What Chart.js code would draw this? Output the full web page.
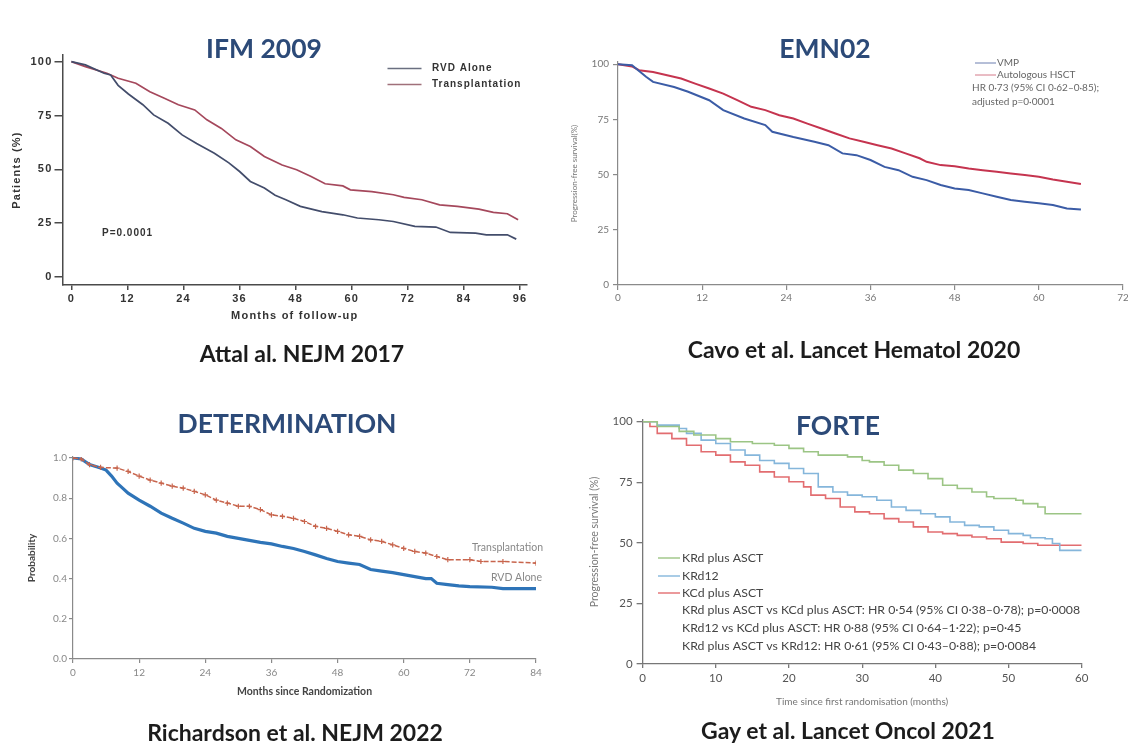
<!DOCTYPE html>
<html>
<head>
<meta charset="utf-8">
<script src="https://cdn.jsdelivr.net/npm/chart.js@4/dist/chart.umd.min.js"></script>
<style>
  html, body { margin: 0; padding: 0; background: #fff; width: 1128px; height: 746px; overflow: hidden; position: relative; }
  canvas { position: absolute; left: 0; top: 0; }
  .lbl { position: absolute; transform: translate(-50%, -50%); white-space: nowrap; font-family: Lato, "Open Sans", sans-serif; font-weight: 700; line-height: 1; }
  .ttl { color: #2c4a78; font-size: 26.5px; }
  .cite { color: #1c1c1c; font-size: 23px; }
</style>
</head>
<body>
<canvas id="ifm" width="1200" height="746"></canvas>
<canvas id="emn" width="1200" height="746"></canvas>
<canvas id="det" width="1200" height="746"></canvas>
<canvas id="forte" width="1200" height="746"></canvas>

<div class="lbl ttl" style="left:264px;top:48px">IFM 2009</div>
<div class="lbl ttl" style="left:825px;top:48px">EMN02</div>
<div class="lbl ttl" style="left:287px;top:423px">DETERMINATION</div>
<div class="lbl ttl" style="left:838px;top:425px">FORTE</div>
<div class="lbl cite" style="left:302px;top:353px">Attal al. NEJM 2017</div>
<div class="lbl cite" style="left:854px;top:349px">Cavo et al. Lancet Hematol 2020</div>
<div class="lbl cite" style="left:295px;top:732px">Richardson et al. NEJM 2022</div>
<div class="lbl cite" style="left:848px;top:730px">Gay et al. Lancet Oncol 2021</div>

<script>
// ---- IFM 2009 (months of follow-up, % patients) ----
const ifmXTicks = [0, 12, 24, 36, 48, 60, 72, 84, 96];
const ifmYTicks = [0, 25, 50, 75, 100];
const ifmRvdMonths = [0, 3, 7, 8.4, 10, 12.2, 15.3, 17.6, 20.7, 23.7, 26.8, 30.6, 33.7, 36, 38.3, 41.3, 43.6, 45.9, 49, 53.6, 58.1, 61.2, 65.8, 68.9, 73.5, 78, 81.1, 86.5, 88.8, 93.3, 95.2];
const ifmRvd = [100, 98.5, 94.6, 93.8, 89, 85, 80, 75.3, 71.4, 66, 62, 57.5, 53, 49, 44.4, 41.3, 38, 35.9, 32.8, 30.4, 28.9, 27.4, 26.6, 25.8, 23.5, 23.2, 20.7, 20.4, 19.6, 19.6, 17.6];
const ifmTxMonths = [0, 3, 7.6, 10, 13.8, 16.8, 19.9, 22.9, 26.4, 29, 32.1, 35.2, 38.3, 41.3, 45.1, 48.2, 51.3, 54.3, 58.1, 59.7, 64.3, 68.9, 71.2, 75, 78.8, 82.6, 87.2, 90.3, 93.3, 95.6];
const ifmTx = [100, 97.7, 94.6, 92.3, 90, 86, 83, 80, 77.6, 73, 69, 63.7, 60.6, 56, 52, 49.8, 46.7, 43.3, 42.3, 40.5, 39.7, 38.2, 37, 35.9, 33.5, 32.8, 31.5, 30, 29.4, 26.6];

// ---- EMN02 (progression-free survival, %) ----
const emnXTicks = [0, 12, 24, 36, 48, 60, 72];
const emnYTicks = [0, 25, 50, 75, 100];
const emnVmpMonths = [0, 2, 4, 5, 8, 10, 13, 15, 18, 21, 22, 25, 28, 30, 32, 34, 36, 38, 40, 42, 44, 46, 48, 50, 52, 54, 56, 58, 60, 62, 64, 66];
const emnVmp = [100, 99.5, 94.3, 92, 89.7, 87.5, 83.7, 79.2, 75.4, 72.4, 69.4, 67, 64.9, 63.3, 59.6, 58.8, 56.6, 53.5, 52, 49, 47.5, 45.3, 43.7, 43, 41.5, 40, 38.5, 37.7, 37, 36.2, 34.7, 34.2];
const emnHsctMonths = [0, 2, 3, 5, 7, 9, 11, 13, 15, 17, 19, 21, 23, 25, 27, 29, 31, 33, 35, 37, 39, 41, 43, 44, 46, 48, 50, 52, 54, 56, 58, 60, 62, 64, 66];
const emnHsct = [100, 99, 97.3, 96.5, 95, 93.5, 91.2, 89, 86.7, 83.7, 80.7, 79.2, 76.9, 75.4, 73.1, 70.9, 68.6, 66.4, 64.9, 63.3, 61.8, 59.6, 57.4, 55.8, 54.3, 53.8, 52.8, 52, 51.3, 50.5, 49.8, 49, 47.8, 46.8, 45.7];

// ---- DETERMINATION (probability) ----
const detXTicks = [0, 12, 24, 36, 48, 60, 72, 84];
const detYTicks = [0, 0.2, 0.4, 0.6, 0.8, 1.0];
const detRvdMonths = [0, 1.5, 3, 5, 6, 7, 8, 9, 10, 12, 14, 16, 18, 20, 22, 24, 26, 28, 30, 32, 34, 36, 38, 40, 42, 44, 46, 48, 50, 52, 54, 56, 58, 60, 62, 64, 65, 66, 68, 70, 72, 76, 78, 84];
const detRvd = [1.0, 0.995, 0.967, 0.95, 0.94, 0.91, 0.875, 0.85, 0.825, 0.79, 0.76, 0.726, 0.70, 0.676, 0.65, 0.635, 0.626, 0.61, 0.60, 0.59, 0.58, 0.573, 0.56, 0.55, 0.535, 0.518, 0.50, 0.485, 0.477, 0.47, 0.445, 0.437, 0.43, 0.42, 0.41, 0.40, 0.40, 0.377, 0.37, 0.364, 0.36, 0.357, 0.35, 0.35];
const detTxMonths = [0, 1.5, 3, 5, 8, 10, 12, 14, 16, 18, 20, 22, 24, 26, 28, 30, 32, 34, 36, 38, 40, 42, 44, 46, 48, 50, 52, 54, 56, 58, 60, 62, 64, 66, 68, 72, 74, 78, 84];
const detTx = [1.0, 0.995, 0.967, 0.953, 0.95, 0.933, 0.91, 0.89, 0.875, 0.86, 0.85, 0.834, 0.817, 0.79, 0.776, 0.76, 0.76, 0.743, 0.717, 0.71, 0.70, 0.684, 0.66, 0.65, 0.635, 0.618, 0.61, 0.593, 0.585, 0.568, 0.55, 0.535, 0.527, 0.51, 0.494, 0.494, 0.485, 0.485, 0.477];

// ---- FORTE (progression-free survival, %) ----
const forteXTicks = [0, 10, 20, 30, 40, 50, 60];
const forteYTicks = [0, 25, 50, 75, 100];
const forteKrdAsctMonths = [0, 2, 5, 7, 10, 12, 15, 18, 20, 22, 24, 28, 30, 31, 33, 35, 37, 39, 41, 43, 45, 47, 48, 51, 52, 54, 55, 60];
const forteKrdAsct = [100, 98, 96, 94.5, 93, 91.7, 91, 90.3, 89, 87.6, 86.2, 85.5, 84, 83.4, 82, 80, 78.6, 76.5, 73.8, 72.4, 71, 69, 68.3, 67.6, 66.2, 64.8, 62, 62];
const forteKrd12Months = [0, 2, 5, 6, 8, 10, 12, 14, 16, 18, 20, 22, 24, 26, 28, 30, 32, 34, 36, 38, 40, 42, 44, 46, 48, 50, 52, 53, 55, 56, 57, 60];
const forteKrd12 = [100, 98.6, 97.2, 95.2, 92.4, 91, 88.3, 86.2, 84, 82.8, 80.7, 78.6, 73.1, 71, 69.7, 69, 67.6, 64.8, 63.4, 62, 60.7, 58.6, 57.2, 56.6, 55.2, 53.8, 53.1, 52.1, 51.7, 49.7, 46.9, 46.9];
const forteKcdMonths = [0, 1, 2, 4, 6, 8, 10, 12, 14, 16, 18, 20, 22, 23, 25, 27, 29, 31, 33, 35, 37, 39, 41, 43, 45, 47, 49, 52, 54, 60];
const forteKcd = [100, 98, 95.2, 93, 90.3, 87.6, 86.2, 83.4, 82, 79.3, 77.2, 75.2, 73.1, 69.7, 68.3, 64.8, 62.8, 62, 60, 58.6, 56.6, 54.5, 53.8, 53.1, 52.4, 51.7, 50.3, 49.7, 49, 49];

const CW = 1200, CH = 746;
const pts = (xs, ys) => xs.map((x, i) => ({ x: x, y: ys[i] }));

// Text and legend keys drawn inside a plot, offsets measured from the plot's top-left corner
function drawNotes(chart, notes) {
  const { ctx, chartArea } = chart;
  ctx.save();
  notes.forEach(n => {
    const x0 = chartArea.left, y0 = chartArea.top;
    if (n.type === 'line') {
      ctx.strokeStyle = n.color;
      ctx.lineWidth = n.width || 1.5;
      ctx.beginPath();
      ctx.moveTo(x0 + n.dx1, y0 + n.dy);
      ctx.lineTo(x0 + n.dx2, y0 + n.dy);
      ctx.stroke();
    } else {
      ctx.font = n.font;
      ctx.fillStyle = n.color;
      ctx.textAlign = n.align || 'left';
      ctx.textBaseline = 'middle';
      ctx.letterSpacing = n.spacing || '0px';
      ctx.fillText(n.text, x0 + n.dx, y0 + n.dy);
      ctx.letterSpacing = '0px';
    }
  });
  ctx.restore();
}

function panel(id, p) {
  const pad = {
    left: p.box.left - p.yw,
    top: p.box.top,
    right: CW - p.box.right,
    bottom: CH - p.box.bottom - p.xh
  };
  const axisCommon = (a) => ({
    type: 'linear',
    min: a.min,
    max: a.max,
    border: { display: true, color: p.axisColor, width: p.axisWidth },
    grid: { display: true, drawOnChartArea: false, drawTicks: true, tickLength: a.tickLength, color: p.axisColor, lineWidth: p.axisWidth },
    ticks: {
      autoSkip: false, maxRotation: 0, padding: a.padding,
      color: p.tickColor, font: p.tickFont,
      callback: a.format || (v => String(v))
    },
    title: a.title ? { display: true, text: a.title, color: a.titleColor, font: a.titleFont, padding: a.titlePad } : { display: false }
  });
  const x = axisCommon(p.x);
  x.afterBuildTicks = s => { s.ticks = p.x.ticks.map(v => ({ value: v })); };
  x.afterFit = s => { s.height = p.xh; };
  const y = axisCommon(p.y);
  y.afterBuildTicks = s => { s.ticks = p.y.ticks.map(v => ({ value: v })); };
  y.afterFit = s => { s.width = p.yw; };

  new Chart(document.getElementById(id), {
    type: 'line',
    data: { datasets: p.datasets },
    options: {
      responsive: false,
      animation: false,
      devicePixelRatio: 1,
      layout: { padding: pad },
      plugins: { legend: { display: false }, tooltip: { enabled: false } },
      elements: { point: { radius: 0 }, line: { tension: 0 } },
      scales: { x: x, y: y }
    },
    plugins: [{
      id: 'notes',
      beforeDraw: c => { c.ctx.letterSpacing = p.axisSpacing || '0px'; },
      afterDraw: c => { c.ctx.letterSpacing = '0px'; drawNotes(c, p.notes); }
    }]
  });
}

// IFM 2009
const ifmBlue = '#434d6b', ifmRed = '#a5485c';
const ifmFont = { family: '"Liberation Sans", Arial, sans-serif', size: 11, weight: 'bold' };
panel('ifm', {
  box: { left: 62.5, right: 527, top: 55, bottom: 285 }, yw: 55, xh: 40,
  axisColor: '#4a4a4a', axisWidth: 1.5, axisSpacing: '1.2px',
  tickColor: '#333', tickFont: ifmFont,
  x: { min: -1.9, max: 97.5, ticks: ifmXTicks, tickLength: 5, padding: 2,
       title: 'Months of follow-up', titleColor: '#333', titleFont: ifmFont, titlePad: { top: 0, bottom: 2 } },
  y: { min: -3.7, max: 103.1, ticks: ifmYTicks, tickLength: 8, padding: 2,
       title: 'Patients (%)', titleColor: '#333', titleFont: ifmFont, titlePad: { top: 3, bottom: 0 } },
  datasets: [
    { label: 'RVD Alone', data: pts(ifmRvdMonths, ifmRvd), borderColor: ifmBlue, borderWidth: 1.7 },
    { label: 'Transplantation', data: pts(ifmTxMonths, ifmTx), borderColor: ifmRed, borderWidth: 1.7 }
  ],
  notes: [
    { type: 'line', dx1: 325, dx2: 359, dy: 13.5, color: '#6a6f80', width: 1.6 },
    { type: 'text', dx: 369.5, dy: 13.5, text: 'RVD Alone', font: 'bold 10px "Liberation Sans", Arial', color: '#333', spacing: '1px' },
    { type: 'line', dx1: 325, dx2: 359, dy: 29.5, color: '#a0707a', width: 1.6 },
    { type: 'text', dx: 369.5, dy: 29.5, text: 'Transplantation', font: 'bold 10px "Liberation Sans", Arial', color: '#333', spacing: '1px' },
    { type: 'text', dx: 39.5, dy: 178, text: 'P=0.0001', font: 'bold 10px "Liberation Sans", Arial', color: '#333', spacing: '1px' }
  ]
});

// EMN02
const emnBlue = '#3b5ca6', emnRed = '#c5344f';
panel('emn', {
  box: { left: 618, right: 1123, top: 62, bottom: 285 }, yw: 50, xh: 30,
  axisColor: '#8a8a8a', axisWidth: 1.2,
  tickColor: '#777', tickFont: { family: 'Lato, sans-serif', size: 10 },
  x: { min: 0, max: 72, ticks: emnXTicks, tickLength: 5, padding: 2 },
  y: { min: 0, max: 101, ticks: emnYTicks, tickLength: 5, padding: 4,
       title: 'Progression-free survival(%)', titleColor: '#777', titleFont: { family: 'Lato, sans-serif', size: 8 }, titlePad: { top: 2, bottom: 0 } },
  datasets: [
    { label: 'VMP', data: pts(emnVmpMonths, emnVmp), borderColor: emnBlue, borderWidth: 2 },
    { label: 'Autologous HSCT', data: pts(emnHsctMonths, emnHsct), borderColor: emnRed, borderWidth: 2 }
  ],
  notes: [
    { type: 'line', dx1: 357, dx2: 378, dy: 1, color: '#6d7fb0', width: 1 },
    { type: 'text', dx: 379, dy: 1, text: 'VMP', font: '10px Lato', color: '#666' },
    { type: 'line', dx1: 357, dx2: 378, dy: 13, color: '#d47a8a', width: 1 },
    { type: 'text', dx: 379, dy: 13, text: 'Autologous HSCT', font: '10px Lato', color: '#666' },
    { type: 'text', dx: 354, dy: 26, text: 'HR 0·73 (95% CI 0·62–0·85);', font: '10px Lato', color: '#666' },
    { type: 'text', dx: 354, dy: 40, text: 'adjusted p=0·0001', font: '10px Lato', color: '#666' }
  ]
});

// DETERMINATION
const detBlue = '#2e74b8', detRed = '#c8654d';
panel('det', {
  box: { left: 73, right: 536, top: 457, bottom: 659 }, yw: 60, xh: 42,
  axisColor: '#8a8a8a', axisWidth: 1.2,
  tickColor: '#888', tickFont: { family: 'Lato, sans-serif', size: 10 },
  x: { min: 0, max: 84, ticks: detXTicks, tickLength: 4, padding: 4,
       title: 'Months since Randomization', titleColor: '#444', titleFont: { family: 'Lato, sans-serif', size: 10.5, weight: 'bold' }, titlePad: { top: 0, bottom: 3 } },
  y: { min: 0, max: 1.005, ticks: detYTicks, tickLength: 4, padding: 2, format: v => v.toFixed(1),
       title: 'Probability', titleColor: '#444', titleFont: { family: 'Lato, sans-serif', size: 10, weight: 'bold' }, titlePad: { top: 13, bottom: 0 } },
  datasets: [
    { label: 'Transplantation', data: pts(detTxMonths, detTx), borderColor: detRed, borderWidth: 1.5, borderDash: [5, 2],
      pointStyle: 'cross', pointRadius: 2.6, pointBorderColor: detRed, pointBorderWidth: 1.2 },
    { label: 'RVD Alone', data: pts(detRvdMonths, detRvd), borderColor: detBlue, borderWidth: 3.2 }
  ],
  notes: [
    { type: 'text', dx: 470, dy: 91, text: 'Transplantation', font: '10.5px Lato', color: '#888', align: 'right' },
    { type: 'text', dx: 469, dy: 121, text: 'RVD Alone', font: '10.5px Lato', color: '#888', align: 'right' }
  ]
});

// FORTE
const forteGreen = '#9cc585', forteBlue = '#85b6db', forteRed = '#e26d70';
panel('forte', {
  box: { left: 642.6, right: 1081.7, top: 420, bottom: 664 }, yw: 56, xh: 46,
  axisColor: '#777', axisWidth: 1.3,
  tickColor: '#555', tickFont: { family: 'Lato, sans-serif', size: 11.5 },
  x: { min: 0, max: 60, ticks: forteXTicks, tickLength: 4, padding: 3,
       title: 'Time since first randomisation (months)', titleColor: '#777', titleFont: { family: 'Lato, sans-serif', size: 10 }, titlePad: { top: 0, bottom: 2 } },
  y: { min: 0, max: 100.7, ticks: forteYTicks, tickLength: 6, padding: 4,
       title: 'Progression-free survival (%)', titleColor: '#777', titleFont: { family: 'Lato, sans-serif', size: 10.5 }, titlePad: { top: 1.4, bottom: 0 } },
  datasets: [
    { label: 'KRd plus ASCT', data: pts(forteKrdAsctMonths, forteKrdAsct), borderColor: forteGreen, borderWidth: 1.6, stepped: 'before' },
    { label: 'KRd12', data: pts(forteKrd12Months, forteKrd12), borderColor: forteBlue, borderWidth: 1.6, stepped: 'before' },
    { label: 'KCd plus ASCT', data: pts(forteKcdMonths, forteKcd), borderColor: forteRed, borderWidth: 1.6, stepped: 'before' }
  ],
  notes: [
    { type: 'line', dx1: 15.4, dx2: 37.4, dy: 138, color: forteGreen, width: 1.4 },
    { type: 'text', dx: 39.4, dy: 138, text: 'KRd plus ASCT', font: '12.3px Lato', color: '#444' },
    { type: 'line', dx1: 15.4, dx2: 37.4, dy: 156, color: forteBlue, width: 1.4 },
    { type: 'text', dx: 39.4, dy: 156, text: 'KRd12', font: '12.3px Lato', color: '#444' },
    { type: 'line', dx1: 15.4, dx2: 37.4, dy: 173, color: forteRed, width: 1.4 },
    { type: 'text', dx: 39.4, dy: 173, text: 'KCd plus ASCT', font: '12.3px Lato', color: '#444' },
    { type: 'text', dx: 39.4, dy: 190, text: 'KRd plus ASCT vs KCd plus ASCT: HR 0·54 (95% CI 0·38–0·78); p=0·0008', font: '12.3px Lato', color: '#444' },
    { type: 'text', dx: 39.4, dy: 208, text: 'KRd12 vs KCd plus ASCT: HR 0·88 (95% CI 0·64–1·22); p=0·45', font: '12.3px Lato', color: '#444' },
    { type: 'text', dx: 39.4, dy: 226, text: 'KRd plus ASCT vs KRd12: HR 0·61 (95% CI 0·43–0·88); p=0·0084', font: '12.3px Lato', color: '#444' }
  ]
});
</script>
</body>
</html>
